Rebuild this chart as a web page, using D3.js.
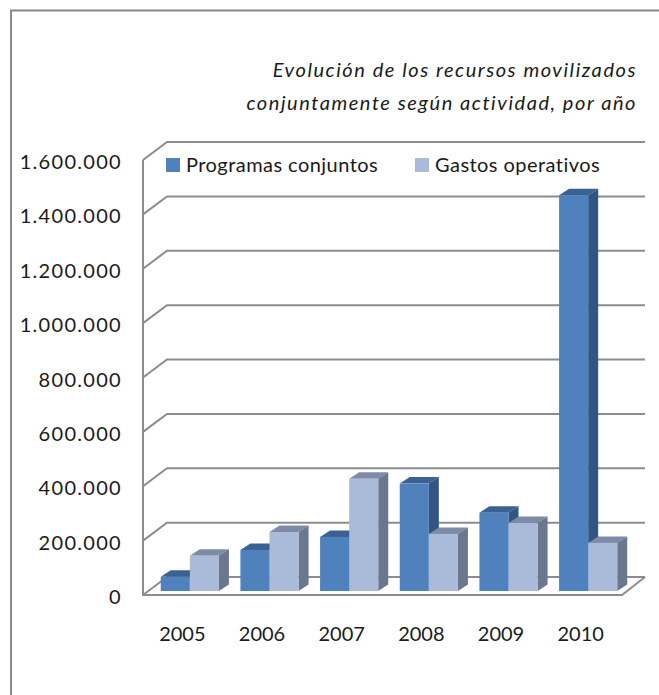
<!DOCTYPE html>
<html>
<head>
<meta charset="utf-8">
<script src="https://d3js.org/d3.v7.min.js"></script>
<style>
    html, body { margin: 0; padding: 0; background: #fff; }
    svg { display: block; }
    text { font-family: Lato, "Open Sans", sans-serif; fill: #1a1a1a; }
</style>
</head>
<body>
<div id="chart"></div>
<script>
const years = ["2005", "2006", "2007", "2008", "2009", "2010"];
const programas = [52000, 151000, 199000, 395000, 288000, 1456000];
const gastos = [130000, 217000, 413000, 210000, 250000, 177000];
const yTicks = [0, 200000, 400000, 600000, 800000, 1000000, 1200000, 1400000, 1600000];
const titleLines = ["Evolución de los recursos movilizados", "conjuntamente según actividad, por año"];

const width = 659, height = 695;
const svg = d3.select("#chart").append("svg")
    .attr("width", width)
    .attr("height", height);

// outer frame, only top and left are visible
svg.append("path")
    .attr("d", `M11,${height} V10.5 H${width}`)
    .attr("fill", "none")
    .attr("stroke", "#888")
    .attr("stroke-width", 2);

// scales
const y = d3.scaleLinear().domain([0, 1600000]).range([595, 160]);
const x = d3.scaleBand().domain(years).range([150, 628]).paddingInner(0.27).paddingOuter(0.135);
const inner = d3.scaleBand().domain([0, 1]).range([0, x.bandwidth()]);

const wallDx = 24, wallDy = -18;   // depth of the walls
const barDx = 10, barDy = -6.5;    // depth of the bars
const barLift = -4;                // bars stand a bit behind the front of the floor
const gridColor = "#8c8c8c";

// walls and gridlines
const grid = svg.append("g").attr("fill", "none").attr("stroke", gridColor).attr("stroke-width", 2);
yTicks.forEach(t => {
    grid.append("path")
        .attr("d", `M143,${y(t)} l${wallDx},${wallDy} H645`);
});
grid.append("path").attr("d", `M143,${y(1600000)} V${y(0)} H622 L645,${y(0) + wallDy}`);

// bars
function drawBar(g, x0, w, v, front, top, side) {
    const y1 = y(0) + barLift;
    const y0 = y(v) + barLift;
    g.append("polygon")
        .attr("points", [[x0, y0], [x0 + barDx, y0 + barDy], [x0 + w + barDx, y0 + barDy], [x0 + w, y0]].join(" "))
        .attr("fill", top);
    g.append("polygon")
        .attr("points", [[x0 + w, y0], [x0 + w + barDx, y0 + barDy], [x0 + w + barDx, y1 + barDy], [x0 + w, y1]].join(" "))
        .attr("fill", side);
    g.append("rect")
        .attr("x", x0)
        .attr("y", y0)
        .attr("width", w)
        .attr("height", y1 - y0)
        .attr("fill", front);
}

years.forEach((yr, i) => {
    const g = svg.append("g").attr("class", "year");
    drawBar(g, x(yr) + inner(0), inner.bandwidth(), programas[i], "#4f81bd", "#3a6191", "#335581");
    drawBar(g, x(yr) + inner(1), inner.bandwidth(), gastos[i], "#aabbda", "#7d8ba6", "#6b778c");
});

// y labels
const esFormat = d3.formatLocale({decimal: ",", thousands: ".", grouping: [3], currency: ["", "€"]}).format(",");
svg.append("g")
    .selectAll("text")
    .data(yTicks)
    .join("text")
    .attr("x", 122)
    .attr("y", d => y(d) + 2)
    .attr("dy", "0.35em")
    .attr("text-anchor", "end")
    .attr("font-size", 20)
    .attr("letter-spacing", 1.3)
    .text(d => esFormat(d));

// x labels
svg.append("g")
    .selectAll("text")
    .data(years)
    .join("text")
    .attr("x", d => x(d) + x.bandwidth() / 2 - 7.5)
    .attr("y", 641)
    .attr("text-anchor", "middle")
    .attr("font-size", 20)
    .text(d => d);

// title
svg.append("g")
    .selectAll("text")
    .data(titleLines)
    .join("text")
    .attr("x", 637)
    .attr("y", (d, i) => 77 + i * 33)
    .attr("text-anchor", "end")
    .attr("font-size", 20)
    .attr("font-style", "italic")
    .attr("letter-spacing", 1.55)
    .text(d => d);

// legend
const legend = svg.append("g");
[["Programas conjuntos", "#4f81bd", 166], ["Gastos operativos", "#aabbda", 415]].forEach(d => {
    legend.append("rect")
        .attr("x", d[2])
        .attr("y", 158)
        .attr("width", 14)
        .attr("height", 14)
        .attr("fill", d[1]);
    legend.append("text")
        .attr("x", d[2] + 20)
        .attr("y", 165)
        .attr("dy", "0.35em")
        .attr("font-size", 20)
        .attr("letter-spacing", 0.45)
        .text(d[0]);
});
</script>
</body>
</html>
